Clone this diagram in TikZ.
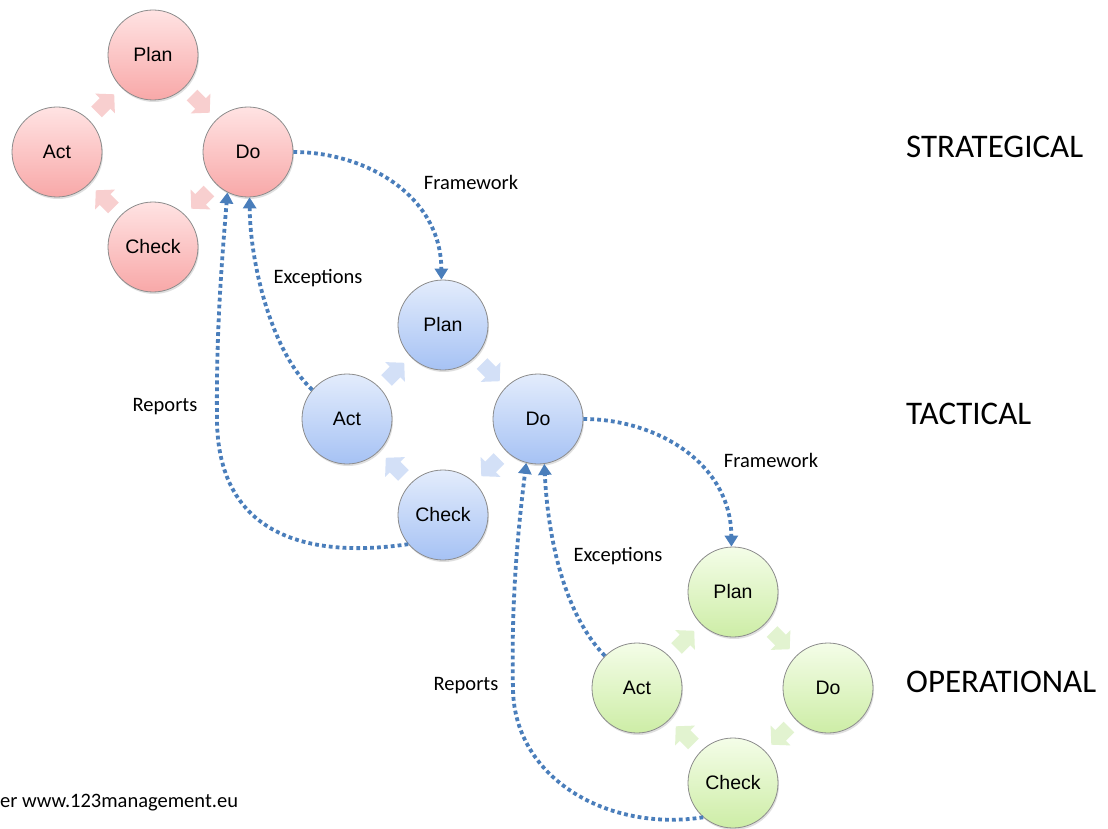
\documentclass[tikz,border=0pt]{standalone}
\usepackage{fontspec}
\setmainfont{Liberation Sans}
\newfontfamily\labelfont{Carlito}
\usetikzlibrary{arrows.meta,shadows,calc}

\definecolor{linkblue}{HTML}{4A7EBB}
\definecolor{redtop}{HTML}{FFE3E3}
\definecolor{redbot}{HTML}{F8A8A8}
\definecolor{bluetop}{HTML}{E3ECFC}
\definecolor{bluebot}{HTML}{A6C2F4}
\definecolor{greentop}{HTML}{F4FDE8}
\definecolor{greenbot}{HTML}{CDEDA6}
\definecolor{redarrow}{HTML}{F8CFCF}
\definecolor{bluearrow}{HTML}{D3E0F7}
\definecolor{greenarrow}{HTML}{E2F3D0}

\tikzset{
  cyc/.pic={\path[pic actions] (-12,-7.5) -- (0,-7.5) -- (0,-14) -- (13,0) -- (0,14) -- (0,7.5) -- (-12,7.5) -- cycle;}
}

\begin{document}
\begin{tikzpicture}[x=1pt,y=-1pt,
  phase/.style={circle, minimum size=90pt, inner sep=0pt, draw=black!45,
    line width=0.8pt, font=\fontsize{19.5}{22}\selectfont,
    drop shadow={opacity=0.25, shadow xshift=1pt, shadow yshift=-2pt}},
  redphase/.style={phase, top color=redtop, bottom color=redbot},
  bluephase/.style={phase, top color=bluetop, bottom color=bluebot},
  greenphase/.style={phase, top color=greentop, bottom color=greenbot},
  cycarrow/.style={draw=none, drop shadow={opacity=0.15, shadow xshift=1pt, shadow yshift=-1.5pt}},
  link/.style={draw=linkblue, line width=3.8pt, dash pattern=on 3.8pt off 3.1pt,
    -{Triangle[width=13pt,length=11pt]}},
  linklabel/.style={font=\labelfont\fontsize{20.5}{24}\selectfont, inner sep=0pt},
  level/.style={font=\labelfont\fontsize{33}{40}\selectfont, anchor=west, inner sep=0pt}
]
\fill[white] (0,0) rectangle (1108,829);
\useasboundingbox (0,0) rectangle (1108,829);

% strategic cycle
\node[redphase] (rPlan)  at (153,55)  {Plan};
\node[redphase] (rDo)    at (248,152) {Do};
\node[redphase] (rCheck) at (153,247) {Check};
\node[redphase] (rAct)   at (57,152)  {Act};

% tactical cycle
\node[bluephase] (bPlan)  at (443,325) {Plan};
\node[bluephase] (bDo)    at (538,419) {Do};
\node[bluephase] (bCheck) at (443,515) {Check};
\node[bluephase] (bAct)   at (347,419) {Act};

% operational cycle
\node[greenphase] (gPlan)  at (733,592) {Plan};
\node[greenphase] (gDo)    at (828,688) {Do};
\node[greenphase] (gCheck) at (733,783) {Check};
\node[greenphase] (gAct)   at (637,688) {Act};

% block arrows between the phases
\foreach \c/\col in {r/redarrow, b/bluearrow, g/greenarrow}{
  \pic[cycarrow, fill=\col, rotate=-45]  at ($(\c Plan)!0.5!(\c Do)$)   {cyc};
  \pic[cycarrow, fill=\col, rotate=-135] at ($(\c Do)!0.5!(\c Check)$)  {cyc};
  \pic[cycarrow, fill=\col, rotate=135]  at ($(\c Check)!0.5!(\c Act)$) {cyc};
  \pic[cycarrow, fill=\col, rotate=45]   at ($(\c Act)!0.5!(\c Plan)$)  {cyc};
}

% links between the levels
\draw[link] (rDo.east) .. controls (365,152) and (441,195) .. (bPlan.92);
\draw[link] (bAct.140) .. controls (270,350) and (250,260) .. (rDo.272);
\draw[link] (bCheck.220) .. controls (300,560) and (218,530) .. (217,420)
                         .. controls (216,330) and (222,260) .. (rDo.243);

\draw[link] (bDo.east) .. controls (655,419) and (731,462) .. (gPlan.92);
\draw[link] (gAct.135) .. controls (565,615) and (548,540) .. (bDo.278);
\draw[link] (gCheck.229) .. controls (610,832) and (515,780) .. (513,690)
                         .. controls (511,600) and (518,530) .. (bDo.255);

\node[linklabel] (fw1) at (471,182) {Framework};
\node[linklabel] (ex1) at (318,278) {Exceptions};
\node[linklabel] (rp1) at (165,407) {Reports};
\node[linklabel] (fw2) at (771,460) {Framework};
\node[linklabel] (ex2) at (618,556) {Exceptions};
\node[linklabel] (rp2) at (466,686) {Reports};

% level names
\node[level] (lvS) at (906,147) {STRATEGICAL};
\node[level] (lvT) at (906,414) {TACTICAL};
\node[level] (lvO) at (906,682) {OPERATIONAL};

\node[linklabel, anchor=west] (src) at (0,803) {er www.123management.eu};
\end{tikzpicture}
\end{document}
